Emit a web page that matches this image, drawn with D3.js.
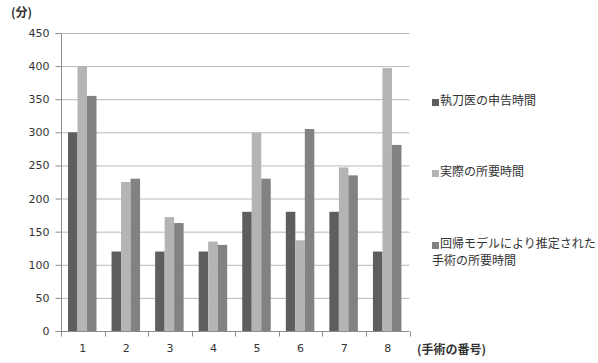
<!DOCTYPE html>
<html>
<head>
<meta charset="utf-8">
<script src="https://cdn.jsdelivr.net/npm/d3@7"></script>
<style>
  body { margin: 0; background: #fff; }
  text { font-family: "Noto Sans CJK JP", "DejaVu Sans", sans-serif; }
</style>
</head>
<body>
<script>
// 手術の番号
var categories = ["1", "2", "3", "4", "5", "6", "7", "8"];
// 系列名
var seriesNames = ["執刀医の申告時間", "実際の所要時間", "回帰モデルにより推定された手術の所要時間"];
// 各系列の値（分）
var reported  = [300, 120, 120, 120, 180, 180, 180, 120];
var actual    = [400, 225, 172, 135, 300, 137, 247, 397];
var estimated = [355, 230, 163, 130, 230, 305, 235, 281];
var yTicks = [0, 50, 100, 150, 200, 250, 300, 350, 400, 450];

var W = 598, H = 363;
var colors = ["#5e5e5e", "#b4b4b4", "#828282"];
var seriesValues = [reported, actual, estimated];

var svg = d3.select("body").append("svg")
  .attr("width", W).attr("height", H);

var x0 = d3.scaleBand().domain(categories).range([61, 409.5]).paddingInner(0).paddingOuter(0);
var x1 = d3.scaleBand().domain([0, 1, 2]).range([7, 35.5]);
var y = d3.scaleLinear().domain([0, 450]).range([331, 33]);

// グリッド線
svg.append("g").selectAll("line")
  .data(yTicks.slice(1))
  .enter().append("line")
  .attr("x1", 61).attr("x2", 409.5)
  .attr("y1", function(d) { return y(d) + 0.5; })
  .attr("y2", function(d) { return y(d) + 0.5; })
  .attr("stroke", "#b8b8b8").attr("stroke-width", 1);

// 棒
var groups = svg.append("g").selectAll("g")
  .data(categories)
  .enter().append("g")
  .attr("transform", function(d) { return "translate(" + x0(d) + ",0)"; });

groups.selectAll("rect")
  .data(function(d, i) { return seriesValues.map(function(s, k) { return { k: k, v: s[i] }; }); })
  .enter().append("rect")
  .attr("x", function(d) { return x1(d.k); })
  .attr("width", x1.bandwidth())
  .attr("y", function(d) { return y(d.v); })
  .attr("height", function(d) { return y(0) - y(d.v); })
  .attr("fill", function(d) { return colors[d.k]; });

// Y軸
var yAxis = svg.append("g")
  .attr("transform", "translate(61.5,0)")
  .call(d3.axisLeft(y).tickValues(yTicks).tickSize(6).tickPadding(6));
// X軸
var xAxis = svg.append("g")
  .attr("transform", "translate(0,331.5)")
  .call(d3.axisBottom(x0).tickSize(0).tickPadding(13));
xAxis.selectAll(".tick line").remove();
xAxis.append("g").selectAll("line")
  .data(categories.concat(["end"]))
  .enter().append("line")
  .attr("x1", function(d, i) { return Math.round(61 + i * x0.step()) + 0.5; })
  .attr("x2", function(d, i) { return Math.round(61 + i * x0.step()) + 0.5; })
  .attr("y1", 0).attr("y2", 5)
  .attr("stroke", "#8c8c8c");

[yAxis, xAxis].forEach(function(a) {
  a.select(".domain").attr("stroke", "#8c8c8c");
  a.selectAll(".tick line").attr("stroke", "#8c8c8c");
  a.selectAll("text").attr("fill", "#333").style("font-size", "11px")
    .style("font-family", "'DejaVu Sans', sans-serif");
});
yAxis.select(".domain").attr("d", "M-6,33.5H0V331.5H-6");
xAxis.select(".domain").attr("d", "M61,0H409.5");

// 軸タイトル
svg.append("text").attr("x", 11).attr("y", 17)
  .attr("font-size", "12px").attr("font-weight", "bold").attr("fill", "#333")
  .text("(分)");
svg.append("text").attr("x", 417).attr("y", 354)
  .attr("font-size", "12px").attr("font-weight", "bold").attr("fill", "#333")
  .text("(手術の番号)");

// 凡例
var legendLines = [["執刀医の申告時間"], ["実際の所要時間"], ["回帰モデルにより推定された", "手術の所要時間"]];
var legendY = [101, 172, 244];
var legend = svg.append("g").selectAll("g")
  .data(legendLines)
  .enter().append("g")
  .attr("transform", function(d, i) { return "translate(432," + legendY[i] + ")"; });
legend.append("rect")
  .attr("x", 0).attr("y", -2).attr("width", 7).attr("height", 7)
  .attr("fill", function(d, i) { return colors[i]; });
legend.append("text")
  .attr("x", 8).attr("y", 0)
  .attr("font-size", "12px").attr("fill", "#333")
  .selectAll("tspan")
  .data(function(d) { return d; })
  .enter().append("tspan")
  .attr("x", function(d, i) { return i === 0 ? 8 : 0; })
  .attr("dy", function(d, i) { return i === 0 ? "0.35em" : "16.5px"; })
  .text(function(d) { return d; });
</script>
</body>
</html>
